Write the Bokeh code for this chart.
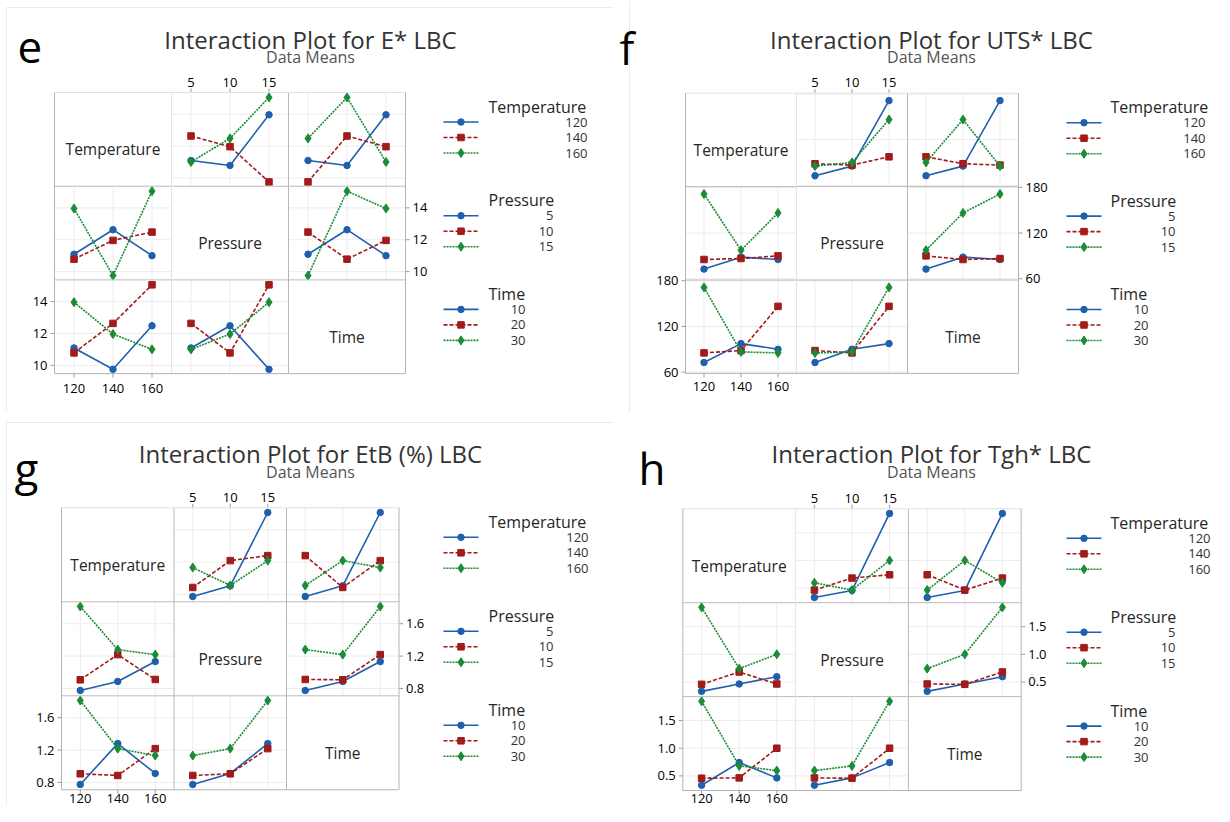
import numpy as np
from bokeh.plotting import figure
from bokeh.models import Range1d
from bokeh.core.properties import value
from bokeh.embed import file_html
from bokeh.resources import INLINE

# ---------------- data: L9 design (one run per T x P combination) ----------------
temperature = [120, 120, 120, 140, 140, 140, 160, 160, 160]
pressure = [5, 10, 15, 5, 10, 15, 5, 10, 15]
time_min = [10, 20, 30, 20, 30, 10, 30, 10, 20]

e_star_lbc = [11.09, 10.78, 13.96, 12.63, 11.96, 9.75, 11.00, 12.48, 15.05]
uts_star_lbc = [72.7, 85.3, 171.3, 88.4, 86.6, 97.5, 85.3, 90.1, 146.4]
etb_lbc = [0.775, 0.907, 1.813, 0.886, 1.218, 1.280, 1.132, 0.911, 1.218]
tgh_star_lbc = [0.331, 0.458, 1.849, 0.464, 0.681, 0.741, 0.596, 0.464, 1.000]

temperature_levels = [120, 140, 160]
pressure_levels = [5, 10, 15]
time_levels = [10, 20, 30]
level_labels = [["120", "140", "160"], ["5", "10", "15"], ["10", "20", "30"]]
factor_names = ["Temperature", "Pressure", "Time"]

e_ticks = [10, 12, 14]
e_tick_labels = ["10", "12", "14"]
uts_ticks = [60, 120, 180]
uts_tick_labels = ["60", "120", "180"]
etb_ticks = [0.8, 1.2, 1.6]
etb_tick_labels = ["0.8", "1.2", "1.6"]
tgh_ticks = [0.5, 1.0, 1.5]
tgh_tick_labels = ["0.5", "1.0", "1.5"]

titles = ["Interaction Plot for E* LBC", "Interaction Plot for UTS* LBC",
          "Interaction Plot for EtB (%) LBC", "Interaction Plot for Tgh* LBC"]
panel_letters = ["e", "f", "g", "h"]
subtitle = "Data Means"

# ---------------- styling / layout ----------------
FONT = value("Open Sans")
BLUE, RED, GREEN = "#1f5fae", "#a11b1b", "#1a8c35"
series_style = [
    dict(color=BLUE, dash="solid", marker="circle", size=6.5),
    dict(color=RED, dash="4 2", marker="square", size=6.5),
    dict(color=GREEN, dash="2 1", marker="diamond", size=9),
]
GRID = "#ececec"
TICK_FONT = "13px"
TICK_COLOR = "#000000"
LABEL_COLOR = "#262626"

factors = [temperature, pressure, time_min]
levels = [temperature_levels, pressure_levels, time_levels]
x_ranges = [(110, 170), (2.5, 17.5), (5, 35)]

panels = [
    dict(resp=e_star_lbc, ticks=e_ticks, tlabels=e_tick_labels, yr=(9.48, 15.36),
         x0=54, cw=117, y0=92, rh=93.7, title=(310, 39), sub_y=56.5, letter=(17, 46.5),
         top_dy=-10, bot_dy=15, lx=(443, 478), tx=488, rights=(587, 553, 525),
         div=("#e4e4e4", "#b8b8b8")),
    dict(resp=uts_star_lbc, ticks=uts_ticks, tlabels=uts_tick_labels, yr=(58.4, 181.0),
         x0=685, cw=111, y0=92.7, rh=93.4, title=(931, 39), sub_y=56.5, letter=(619, 47),
         top_dy=-11, bot_dy=13, lx=(1066, 1101), tx=1110, rights=(1205, 1175, 1148),
         div=("#e4e4e4", "#b8b8b8")),
    dict(resp=etb_lbc, ticks=etb_ticks, tlabels=etb_tick_labels, yr=(0.709, 1.871),
         x0=61, cw=112.5, y0=507.3, rh=94, title=(310, 453), sub_y=471, letter=(14, 467),
         top_dy=-10, bot_dy=8.5, lx=(443, 478), tx=488, rights=(588, 553, 525),
         div=("#b8b8b8", "#b8b8b8")),
    dict(resp=tgh_star_lbc, ticks=tgh_ticks, tlabels=tgh_tick_labels, yr=(0.236, 1.933),
         x0=682.3, cw=112.8, y0=508.3, rh=93.9, title=(931, 453), sub_y=471, letter=(638, 467),
         top_dy=-10, bot_dy=7.5, lx=(1066, 1101), tx=1110, rights=(1210, 1175, 1148),
         div=("#e4e4e4", "#b8b8b8")),
]

W, H = 1214, 806
p = figure(width=W, height=H, x_range=Range1d(0, W), y_range=Range1d(H, 0),
           x_axis_location=None, y_axis_location=None, output_backend="svg",
           toolbar_location=None, min_border=0)
p.grid.visible = False
p.outline_line_color = None
p.background_fill_color = "white"
p.border_fill_color = "white"


def txt(target, x, y, text, size, color="#222222", align="left", baseline="middle",
        x_offset=0, y_offset=0, style="normal"):
    target.text(x=x, y=y, text=text, text_font=FONT, text_font_size=size, text_color=color,
                text_align=align, text_baseline=baseline, x_offset=x_offset, y_offset=y_offset,
                text_font_style=style)


def cell_means(resp, i, j):
    out = []
    for a in levels[i]:
        row = []
        for b in levels[j]:
            vals = [r for r, fa, fb in zip(resp, factors[i], factors[j]) if fa == a and fb == b]
            row.append(float(np.mean(vals)))
        out.append(row)
    return out


# faint panel borders
p.segment(x0=[6, 6, 6, 6, 629], y0=[7, 7, 422, 422, 0], x1=[613, 6, 613, 6, 629],
          y1=[7, 410, 422, 806, 412], line_color="#ebebeb", line_width=1)

for k, cfg in enumerate(panels):
    resp = cfg["resp"]
    yr = cfg["yr"]
    x0, cw, y0, rh = cfg["x0"], cfg["cw"], cfg["y0"], cfg["rh"]
    ticks, tlabels = cfg["ticks"], cfg["tlabels"]
    nt = len(ticks)

    # titles
    txt(p, [cfg["letter"][0]], [cfg["letter"][1]], [panel_letters[k]], "44px", "#000000",
        "left", "alphabetic")
    txt(p, [cfg["title"][0]], [cfg["title"][1]], [titles[k]], "24px", "#333333",
        "center", "alphabetic")
    txt(p, [cfg["title"][0]], [cfg["sub_y"]], [subtitle], "16px", "#555555",
        "center", "alphabetic")

    for i in range(3):
        for j in range(3):
            cx0, cx1 = x0 + j * cw, x0 + (j + 1) * cw
            cy0, cy1 = y0 + i * rh, y0 + (i + 1) * rh
            if i == j:
                txt(p, [(cx0 + cx1) / 2], [(cy0 + cy1) / 2 + 10], [factor_names[i]], "15.5px",
                    LABEL_COLOR, "center", "middle")
                continue
            xr = x_ranges[j]
            sub = p.subplot(x_source=Range1d(*xr), y_source=Range1d(*yr),
                            x_target=Range1d(cx0, cx1), y_target=Range1d(cy1, cy0))
            # gridlines
            sub.segment(x0=levels[j], y0=[yr[0]] * 3, x1=levels[j], y1=[yr[1]] * 3,
                        line_color=GRID, line_width=1)
            sub.segment(x0=[xr[0]] * nt, y0=ticks, x1=[xr[1]] * nt, y1=ticks,
                        line_color=GRID, line_width=1)
            means = cell_means(resp, i, j)
            for s, st in enumerate(series_style):
                sub.line(x=levels[j], y=means[s], line_color=st["color"], line_width=1.6,
                         line_dash=st["dash"])
                sub.scatter(x=levels[j], y=means[s], marker=st["marker"], size=st["size"],
                            fill_color=st["color"], line_color=st["color"])

            # y axes: left for rows 0 and 2, right for row 1
            ysub = p.subplot(x_source=Range1d(cx0, cx1), y_source=Range1d(*yr),
                             x_target=Range1d(cx0, cx1), y_target=Range1d(cy1, cy0))
            if j == 0 and i != 1:
                ysub.segment(x0=[cx0 - 4] * nt, y0=ticks, x1=[cx0] * nt, y1=ticks,
                             line_color="#9a9a9a")
                txt(ysub, [cx0] * nt, ticks, tlabels, TICK_FONT, TICK_COLOR, "right", "middle",
                    x_offset=-7)
            if j == 2 and i == 1:
                ysub.segment(x0=[cx1] * nt, y0=ticks, x1=[cx1 + 4] * nt, y1=ticks,
                             line_color="#9a9a9a")
                txt(ysub, [cx1] * nt, ticks, tlabels, TICK_FONT, TICK_COLOR, "left", "middle",
                    x_offset=7)
            # x axes: top for column 1 (row 0), bottom for columns 0 and 2 (row 2)
            xsub = p.subplot(x_source=Range1d(*xr), y_source=Range1d(cy1, cy0),
                             x_target=Range1d(cx0, cx1), y_target=Range1d(cy1, cy0))
            if i == 0 and j == 1:
                xsub.segment(x0=levels[j], y0=[cy0] * 3, x1=levels[j], y1=[cy0 - 4] * 3,
                             line_color="#9a9a9a")
                txt(xsub, levels[j], [cy0] * 3, level_labels[j], TICK_FONT, TICK_COLOR,
                    "center", "middle", y_offset=cfg["top_dy"])
            if i == 2 and j in (0, 2):
                xsub.segment(x0=levels[j], y0=[cy1] * 3, x1=levels[j], y1=[cy1 + 4] * 3,
                             line_color="#9a9a9a")
                txt(xsub, levels[j], [cy1] * 3, level_labels[j], TICK_FONT, TICK_COLOR,
                    "center", "middle", y_offset=cfg["bot_dy"])

    # frame and dividers
    xl, xrr = x0, x0 + 3 * cw
    yt, yb = y0, y0 + 3 * rh
    p.segment(x0=[xl, xl], y0=[yt + rh, yt + 2 * rh], x1=[xrr, xrr], y1=[yt + rh, yt + 2 * rh],
              line_color="#bcbcbc", line_width=1)
    p.segment(x0=[x0 + cw], y0=[yt], x1=[x0 + cw], y1=[yb], line_color=cfg["div"][0])
    p.segment(x0=[x0 + 2 * cw], y0=[yt], x1=[x0 + 2 * cw], y1=[yb], line_color=cfg["div"][1])
    p.segment(x0=[xl], y0=[yt], x1=[xrr], y1=[yt], line_color="#e2e2e2")
    p.segment(x0=[xl, xrr, xl], y0=[yt, yt, yb], x1=[xl, xrr, xrr], y1=[yb, yb, yb],
              line_color="#b4b4b4")

    # legends (one per row)
    for i in range(3):
        ty = y0 + i * rh + 14
        txt(p, [cfg["tx"]], [ty], [factor_names[i]], "16px", LABEL_COLOR, "left", "middle")
        for s, st in enumerate(series_style):
            ey = ty + 15.5 * (s + 1)
            p.segment(x0=[cfg["lx"][0]], y0=[ey], x1=[cfg["lx"][1]], y1=[ey],
                      line_color=st["color"], line_width=1.6, line_dash=st["dash"])
            p.scatter(x=[(cfg["lx"][0] + cfg["lx"][1]) / 2], y=[ey], marker=st["marker"],
                      size=st["size"], fill_color=st["color"], line_color=st["color"])
            txt(p, [cfg["rights"][i]], [ey], [level_labels[i][s]], "13px", "#333333",
                "right", "middle")

open("out.html", "w").write(file_html(p, INLINE))
